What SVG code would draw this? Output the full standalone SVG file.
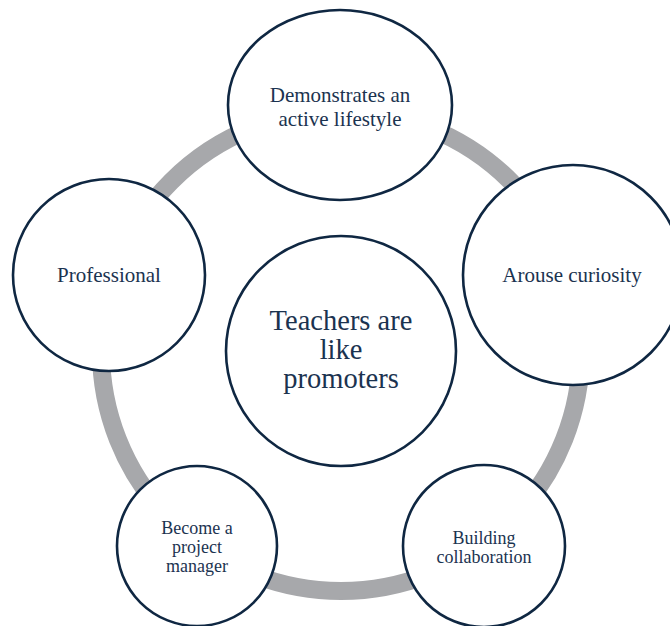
<svg xmlns="http://www.w3.org/2000/svg" width="670" height="626" viewBox="0 0 670 626">
  <style>
    .node { fill: #ffffff; stroke: #0f2742; stroke-width: 2.6; }
    .label { font-family: "Liberation Serif", "Times New Roman", serif; fill: #1b3350; text-anchor: middle; }
    .ring { fill: none; stroke: #a7a8ab; stroke-width: 18; }
  </style>
  <rect width="670" height="626" fill="#ffffff"/>

  <!-- cycle ring linking the outer nodes -->
  <g id="connectors">
    <circle class="ring" cx="341" cy="351" r="240"/>
  </g>

  <g id="center">
    <circle class="node" cx="341" cy="351" r="115"/>
    <text class="label" font-size="28.5" x="341" y="330">Teachers are</text>
    <text class="label" font-size="28.5" x="341" y="359">like</text>
    <text class="label" font-size="28.5" x="341" y="388">promoters</text>
  </g>

  <g id="node-lifestyle">
    <ellipse class="node" cx="340" cy="105" rx="112" ry="95"/>
    <text class="label" font-size="21" x="340" y="102">Demonstrates an</text>
    <text class="label" font-size="21" x="340" y="126">active lifestyle</text>
  </g>

  <g id="node-curiosity">
    <circle class="node" cx="573" cy="275" r="110"/>
    <text class="label" font-size="21" x="572" y="282">Arouse curiosity</text>
  </g>

  <g id="node-collaboration">
    <circle class="node" cx="484" cy="546" r="81"/>
    <text class="label" font-size="18" x="484" y="544">Building</text>
    <text class="label" font-size="18" x="484" y="563">collaboration</text>
  </g>

  <g id="node-manager">
    <circle class="node" cx="197" cy="546" r="80"/>
    <text class="label" font-size="18" x="197" y="534">Become a</text>
    <text class="label" font-size="18" x="197" y="553">project</text>
    <text class="label" font-size="18" x="197" y="572">manager</text>
  </g>

  <g id="node-professional">
    <circle class="node" cx="109" cy="275" r="96"/>
    <text class="label" font-size="21" x="109" y="282">Professional</text>
  </g>
</svg>
